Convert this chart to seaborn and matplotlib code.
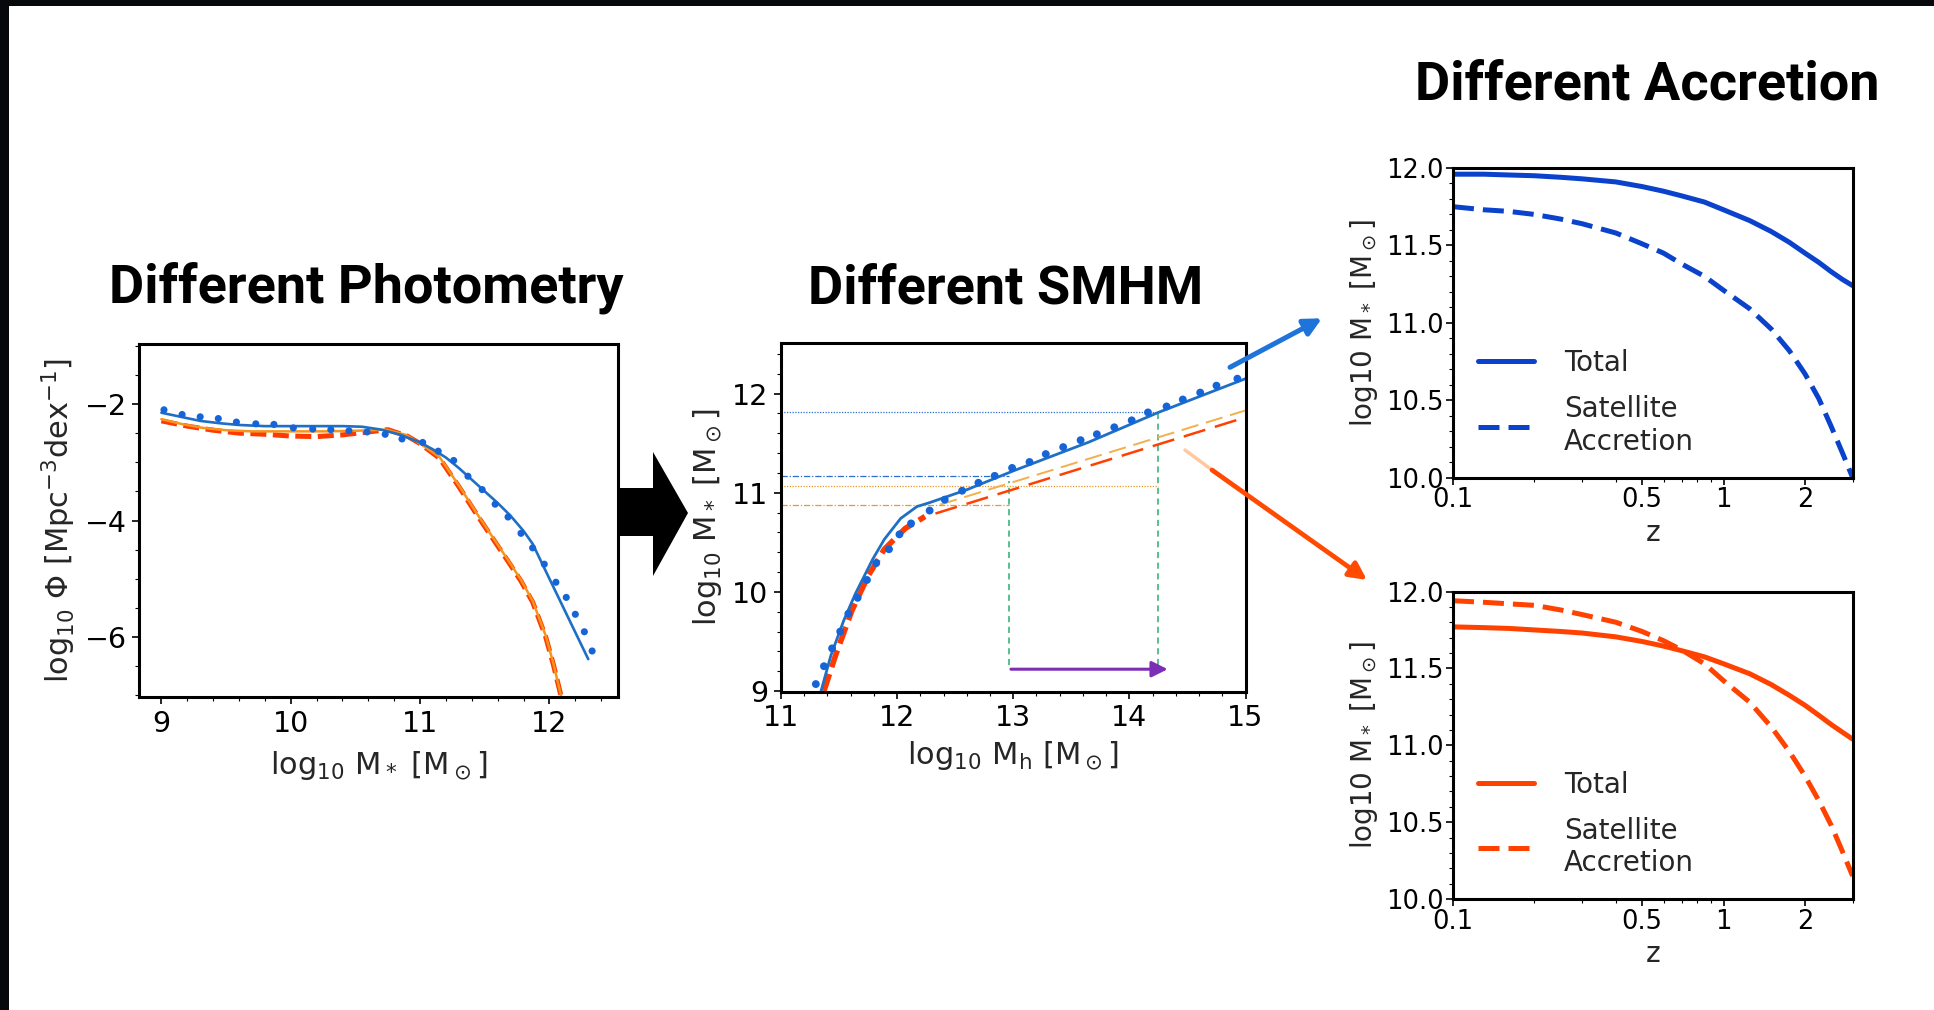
import numpy as np
import pandas as pd
import matplotlib
matplotlib.use("Agg")
import matplotlib.pyplot as plt
import seaborn as sns
from matplotlib.patches import Rectangle, Polygon, FancyArrowPatch
from matplotlib.ticker import (AutoMinorLocator, FixedLocator, FixedFormatter,
                               NullFormatter, LogLocator, FormatStrFormatter)

# ---------------------------------------------------------------- data
# Stellar mass function (left panel)
smf_mass_blue = [9.00, 9.15, 9.30, 9.45, 9.60, 9.80, 10.00, 10.20, 10.40, 10.55,
                 10.70, 10.85, 11.00, 11.10, 11.20, 11.30, 11.40, 11.50, 11.60,
                 11.70, 11.80, 11.87, 11.95, 12.05, 12.15, 12.25, 12.30]
smf_phi_blue = [-2.15, -2.22, -2.29, -2.33, -2.36, -2.38, -2.38, -2.38, -2.38, -2.39,
                -2.44, -2.53, -2.66, -2.78, -2.92, -3.10, -3.30, -3.50, -3.70,
                -3.92, -4.18, -4.40, -4.77, -5.23, -5.69, -6.15, -6.38]

smf_mass_dots = [9.02, 9.16, 9.30, 9.44, 9.58, 9.73, 9.87, 10.02, 10.17, 10.31,
                 10.45, 10.59, 10.73, 10.86, 11.02, 11.14, 11.26, 11.37, 11.48,
                 11.58, 11.68, 11.78, 11.87, 11.96, 12.05, 12.13, 12.20, 12.27, 12.33]
smf_phi_dots = [-2.10, -2.18, -2.22, -2.25, -2.31, -2.34, -2.35, -2.41, -2.43, -2.44,
                -2.46, -2.48, -2.52, -2.60, -2.66, -2.81, -2.97, -3.24, -3.47,
                -3.72, -3.94, -4.22, -4.47, -4.75, -5.06, -5.32, -5.61, -5.91, -6.24]

smf_mass_orange = [9.00, 9.15, 9.32, 9.50, 9.70, 10.00, 10.26, 10.50, 10.74, 10.89,
                   11.00, 11.15, 11.30, 11.43, 11.55, 11.68, 11.78, 11.87, 11.97,
                   12.03, 12.11]
smf_phi_orange = [-2.26, -2.34, -2.41, -2.45, -2.47, -2.47, -2.47, -2.46, -2.44, -2.53,
                  -2.68, -2.91, -3.40, -3.85, -4.25, -4.68, -5.02, -5.38, -5.97,
                  -6.45, -7.20]

smf_mass_red = [9.00, 9.20, 9.40, 9.60, 9.80, 10.00, 10.20, 10.40, 10.60, 10.75,
                10.90, 11.00, 11.15, 11.30, 11.43, 11.55, 11.68, 11.78, 11.87,
                11.97, 12.03, 12.11]
smf_phi_red = [-2.29, -2.38, -2.45, -2.50, -2.52, -2.55, -2.56, -2.53, -2.48, -2.44,
               -2.55, -2.68, -2.93, -3.42, -3.87, -4.27, -4.70, -5.04, -5.40,
               -5.99, -6.47, -7.20]

# Stellar-to-halo mass relation (middle panel)
smhm_mh_blue = [11.345, 11.43, 11.54, 11.64, 11.79, 11.89, 12.03, 12.17, 12.28,
                12.60, 13.00, 13.65, 14.25, 15.00]
smhm_ms_blue = [9.00, 9.36, 9.71, 9.98, 10.33, 10.53, 10.74, 10.86, 10.90,
                11.03, 11.22, 11.51, 11.81, 12.15]

smhm_mh_dots = [11.30, 11.37, 11.44, 11.51, 11.58, 11.66, 11.74, 11.82, 11.93, 12.02,
                12.12, 12.28, 12.41, 12.56, 12.70, 12.84, 12.99, 13.14, 13.28, 13.43,
                13.58, 13.72, 13.87, 14.02, 14.16, 14.32, 14.46, 14.61, 14.75, 14.93]
smhm_ms_dots = [9.07, 9.25, 9.43, 9.60, 9.78, 9.94, 10.12, 10.29, 10.43, 10.58,
                10.69, 10.82, 10.93, 11.02, 11.10, 11.17, 11.25, 11.31, 11.39, 11.46,
                11.53, 11.59, 11.66, 11.73, 11.81, 11.87, 11.94, 12.01, 12.08, 12.15]

smhm_mh_red_low = [11.37, 11.47, 11.61, 11.75, 11.89, 12.07, 12.24]
smhm_ms_red_low = [9.00, 9.36, 9.81, 10.16, 10.43, 10.64, 10.76]

smhm_mh_red_high = [12.33, 15.00]
smhm_ms_red_high = [10.79, 11.76]
smhm_mh_orange_high = [12.37, 15.00]
smhm_ms_orange_high = [10.88, 11.83]

# reference levels read across the relation
mh_pivot_lo, mh_pivot_hi = 12.96, 14.25
ms_blue_lo, ms_blue_hi = 11.17, 11.81
ms_orange_lo, ms_orange_hi = 10.88, 11.065
shift_y = 9.22
shift_from, shift_to = 12.98, 14.33

# Accretion histories (right panels)
z_grid = [0.10, 0.13, 0.16, 0.20, 0.25, 0.30, 0.40, 0.50, 0.60, 0.70,
          0.85, 1.00, 1.25, 1.50, 1.75, 2.00, 2.25, 2.50, 2.75, 3.00]
blue_total = [11.96, 11.96, 11.955, 11.95, 11.94, 11.93, 11.91, 11.88, 11.85, 11.82,
              11.78, 11.73, 11.66, 11.59, 11.52, 11.45, 11.39, 11.33, 11.28, 11.24]
blue_sat = [11.75, 11.73, 11.72, 11.70, 11.67, 11.64, 11.58, 11.51, 11.45, 11.38,
            11.30, 11.21, 11.09, 10.96, 10.82, 10.67, 10.51, 10.33, 10.16, 10.00]
red_total = [11.77, 11.765, 11.76, 11.75, 11.74, 11.73, 11.705, 11.675, 11.645, 11.615,
             11.575, 11.53, 11.465, 11.395, 11.325, 11.26, 11.195, 11.135, 11.085, 11.04]
red_sat = [11.94, 11.93, 11.92, 11.91, 11.88, 11.85, 11.80, 11.74, 11.68, 11.62,
           11.53, 11.42, 11.28, 11.12, 10.96, 10.80, 10.64, 10.48, 10.31, 10.15]

# ---------------------------------------------------------------- style
sns.set_theme(style="ticks")
plt.rcParams['font.family'] = ['DejaVu Sans']
plt.rcParams['mathtext.default'] = 'regular'

W, H = 1934, 1010
fig = plt.figure(figsize=(W / 100, H / 100), dpi=100)
fig.patch.set_facecolor('#07080c')
fig.add_artist(Rectangle((8.7 / W, -0.05), 2, 1.05 - 6 / H, transform=fig.transFigure,
                         facecolor='white', edgecolor='none', zorder=0))


def rect(l, t, r, b):
    return [l / W, 1 - b / H, (r - l) / W, (b - t) / H]


def fpt(x, y):
    return (x / W, 1 - y / H)


def style_axes(ax, tick_size):
    for s in ax.spines.values():
        s.set_visible(True)
        s.set_color('black')
        s.set_linewidth(2.2)
    ax.tick_params(which='major', direction='out', length=5, width=1.2,
                   colors='black', labelsize=tick_size, pad=4)
    ax.tick_params(which='minor', direction='out', length=3, width=0.8, colors='black')
    ax.set_facecolor('white')


BLUE = '#1f6fc4'
BLUE_DOT = '#1565d8'
ORANGE = '#f7941d'
RED = '#ff3a00'
TICK_MAIN = 20.5
LABEL_MAIN = 22

# ---------------------------------------------------------------- left panel
ax1 = fig.add_axes(rect(139.4, 344, 618, 697))
sns.lineplot(x=smf_mass_red, y=smf_phi_red, ax=ax1, color=RED, lw=3.6, sort=False,
             estimator=None, linestyle=(0, (3.2, 1.3)))
sns.lineplot(x=smf_mass_orange, y=smf_phi_orange, ax=ax1, color=ORANGE, lw=1.8,
             sort=False, estimator=None)
sns.lineplot(x=smf_mass_blue, y=smf_phi_blue, ax=ax1, color=BLUE, lw=1.9,
             sort=False, estimator=None)
sns.scatterplot(x=smf_mass_dots, y=smf_phi_dots, ax=ax1, color=BLUE_DOT, s=26,
                edgecolor='none', zorder=5)
ax1.set_xlim(8.83, 12.53)
ax1.set_ylim(-7.03, -0.97)
ax1.set_xticks([9, 10, 11, 12])
ax1.set_yticks([-6, -4, -2])
ax1.xaxis.set_minor_locator(AutoMinorLocator(5))
ax1.yaxis.set_minor_locator(AutoMinorLocator(4))
style_axes(ax1, TICK_MAIN)
ax1.set_xlabel(r'log$_{10}$ M$_*$ [M$_\odot$]', fontsize=LABEL_MAIN, labelpad=8)
ax1.set_ylabel(r'log$_{10}$ $\Phi$ [Mpc$^{-3}$dex$^{-1}$]', fontsize=LABEL_MAIN, labelpad=5)

# ---------------------------------------------------------------- middle panel
ax2 = fig.add_axes(rect(781, 343, 1245.5, 692))
ax2.hlines(ms_blue_hi, 11.0, mh_pivot_hi, color='#2a6fc9', lw=0.9, linestyle=(0, (1, 1.2)))
ax2.hlines(ms_blue_lo, 11.0, mh_pivot_lo, color='#2a6fc9', lw=0.9, linestyle=(0, (5, 1.5, 1, 1.5)))
ax2.hlines(ms_orange_hi, 11.0, mh_pivot_hi, color='#e89a2c', lw=0.9, linestyle=(0, (1, 1.2)))
ax2.hlines(ms_orange_lo, 11.0, mh_pivot_lo, color='#e89a2c', lw=0.9, linestyle=(0, (5, 1.5, 1, 1.5)))
ax2.vlines(mh_pivot_lo, 9.26, ms_blue_lo - 0.05, color='#2dae6a', lw=1.1, linestyle=(0, (4, 3)))
ax2.vlines(mh_pivot_hi, 9.26, ms_blue_hi + 0.02, color='#2dae6a', lw=1.1, linestyle=(0, (4, 3)))
ax2.annotate('', xy=(shift_to, shift_y), xytext=(shift_from, shift_y),
             arrowprops=dict(arrowstyle='-|>', color='#7d2eb6', lw=2.2,
                             mutation_scale=24, shrinkA=0, shrinkB=0))
sns.lineplot(x=smhm_mh_orange_high, y=smhm_ms_orange_high, ax=ax2, color='#f3b04a',
             lw=1.4, estimator=None, linestyle=(0, (9, 4)))
sns.lineplot(x=smhm_mh_red_high, y=smhm_ms_red_high, ax=ax2, color='#ff4000',
             lw=1.8, estimator=None, linestyle=(0, (9, 4)))
sns.lineplot(x=smhm_mh_red_low, y=smhm_ms_red_low, ax=ax2, color=RED, lw=4.0,
             estimator=None, linestyle=(0, (3.2, 1.3)))
sns.lineplot(x=smhm_mh_blue, y=smhm_ms_blue, ax=ax2, color=BLUE, lw=2.0, estimator=None)
sns.scatterplot(x=smhm_mh_dots, y=smhm_ms_dots, ax=ax2, color=BLUE_DOT, s=32,
                edgecolor='none', zorder=5)
ax2.set_xlim(11, 15)
ax2.set_ylim(8.99, 12.51)
ax2.set_xticks([11, 12, 13, 14, 15])
ax2.set_yticks([9, 10, 11, 12])
ax2.xaxis.set_minor_locator(AutoMinorLocator(5))
ax2.yaxis.set_minor_locator(AutoMinorLocator(5))
style_axes(ax2, TICK_MAIN)
ax2.set_xlabel(r'log$_{10}$ M$_h$ [M$_\odot$]', fontsize=LABEL_MAIN, labelpad=5)
ax2.set_ylabel(r'log$_{10}$ M$_*$ [M$_\odot$]', fontsize=LABEL_MAIN, labelpad=6)

# ---------------------------------------------------------------- right panels
def accretion_panel(box, total, sat, color):
    ax = fig.add_axes(box)
    sns.lineplot(x=z_grid, y=total, ax=ax, color=color, lw=3.6, estimator=None,
                 label='Total')
    sns.lineplot(x=z_grid, y=sat, ax=ax, color=color, lw=3.6, estimator=None,
                 linestyle=(0, (4.2, 1.8)), label='Satellite\nAccretion')
    ax.set_xscale('log')
    ax.set_xlim(0.1, 3.0)
    ax.set_ylim(10.0, 12.0)
    ax.xaxis.set_major_locator(FixedLocator([0.1, 0.5, 1, 2]))
    ax.xaxis.set_major_formatter(FixedFormatter(['0.1', '0.5', '1', '2']))
    ax.xaxis.set_minor_locator(LogLocator(subs=np.arange(2, 10)))
    ax.xaxis.set_minor_formatter(NullFormatter())
    ax.set_yticks([10.0, 10.5, 11.0, 11.5, 12.0])
    ax.yaxis.set_major_formatter(FormatStrFormatter('%.1f'))
    ax.yaxis.set_minor_locator(AutoMinorLocator(5))
    style_axes(ax, 18.5)
    ax.tick_params(which='major', pad=2)
    ax.set_xlabel('z', fontsize=20, labelpad=4)
    ax.set_ylabel(r'log10 M$_*$ [M$_\odot$]', fontsize=20, labelpad=4)
    ax.legend(frameon=False, loc='lower left', bbox_to_anchor=(0.0, -0.01),
              fontsize=20, handlelength=2.0, handletextpad=1.1, labelspacing=0.65)
    return ax


ax3 = accretion_panel(rect(1453, 168, 1852.6, 477.5), blue_total, blue_sat, '#0b42cc')
ax4 = accretion_panel(rect(1453, 591.5, 1852.6, 899), red_total, red_sat, '#ff4200')

# ---------------------------------------------------------------- titles
title_kw = dict(ha='center', va='baseline', fontsize=39, fontweight='bold',
                family=['Roboto', 'DejaVu Sans'], color='black')
fig.text(*fpt(366, 303), 'Different Photometry', **title_kw)
fig.text(*fpt(1006, 303), 'Different SMHM', **title_kw)
fig.text(*fpt(1647, 100), 'Different Accretion', **title_kw)

# ---------------------------------------------------------------- connecting arrows
block = [(620, 488), (653, 488), (653, 452), (688, 513), (653, 576), (653, 536), (620, 536)]
fig.add_artist(Polygon([fpt(x, y) for x, y in block], closed=True,
                       transform=fig.transFigure, facecolor='black', edgecolor='none'))

fig.add_artist(FancyArrowPatch(fpt(1230, 367.3), fpt(1322, 318.3),
                               transform=fig.transFigure, arrowstyle='-|>',
                               mutation_scale=26, lw=3.6, color='#1e74d8',
                               shrinkA=0, shrinkB=0))
fig.add_artist(FancyArrowPatch(fpt(1185, 450), fpt(1212, 470),
                               transform=fig.transFigure, arrowstyle='-',
                               lw=2.5, color='#ffc9a0', shrinkA=0, shrinkB=0))
fig.add_artist(FancyArrowPatch(fpt(1212, 470), fpt(1367, 580),
                               transform=fig.transFigure, arrowstyle='-|>',
                               mutation_scale=26, lw=3.4, color='#ff4a00',
                               shrinkA=0, shrinkB=0))

fig.savefig('out.png', dpi=100, facecolor=fig.get_facecolor())
